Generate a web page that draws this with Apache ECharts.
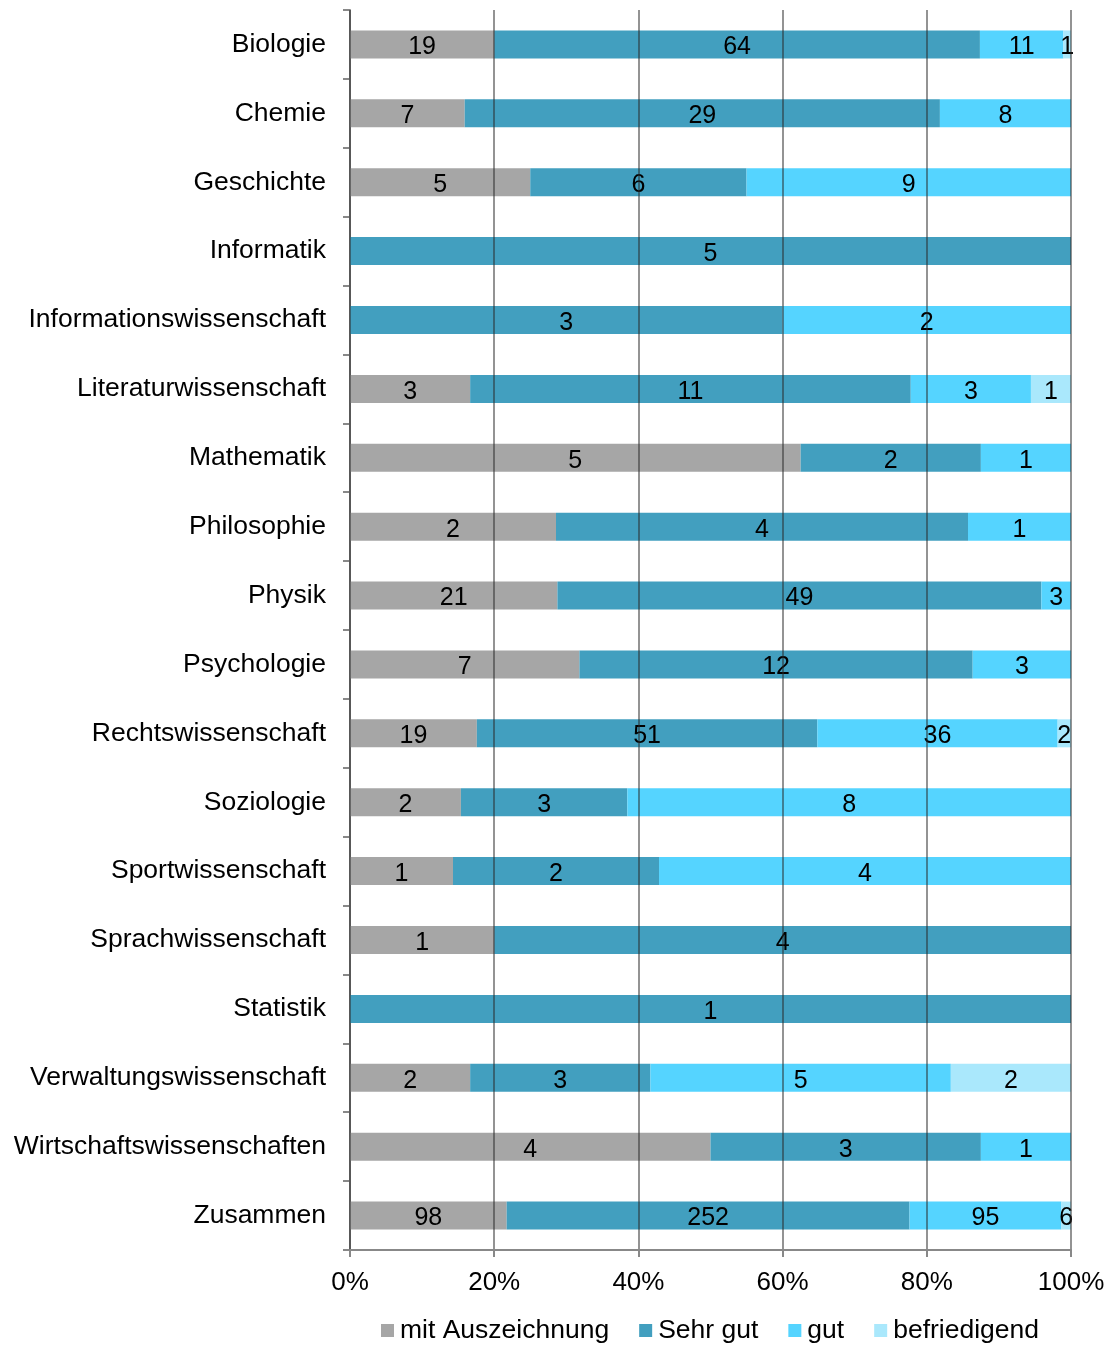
<!DOCTYPE html>
<html>
<head>
<meta charset="utf-8">
<script src="https://cdn.jsdelivr.net/npm/echarts@6/dist/echarts.min.js"></script>
<style>
  html, body { margin: 0; padding: 0; background: #fff; }
  #chart { width: 1109px; height: 1345px; }
</style>
</head>
<body>
<div id="chart"></div>
<script>
  // Fächer (top to bottom)
  var faecher = ['Biologie', 'Chemie', 'Geschichte', 'Informatik', 'Informationswissenschaft',
    'Literaturwissenschaft', 'Mathematik', 'Philosophie', 'Physik', 'Psychologie',
    'Rechtswissenschaft', 'Soziologie', 'Sportwissenschaft', 'Sprachwissenschaft', 'Statistik',
    'Verwaltungswissenschaft', 'Wirtschaftswissenschaften', 'Zusammen']

  var mitAuszeichnung = [19, 7, 5, 0, 0, 3, 5, 2, 21, 7, 19, 2, 1, 1, 0, 2, 4, 98]
  var sehrGut = [64, 29, 6, 5, 3, 11, 2, 4, 49, 12, 51, 3, 2, 4, 1, 3, 3, 252]
  var gut = [11, 8, 9, 0, 2, 3, 1, 1, 3, 3, 36, 8, 4, 0, 0, 5, 1, 95]
  var befriedigend = [1, 0, 0, 0, 0, 1, 0, 0, 0, 0, 2, 0, 0, 0, 0, 2, 0, 6]

  var noten = ['mit Auszeichnung', 'Sehr gut', 'gut', 'befriedigend']
  var farben = ['#A6A6A6', '#429FBF', '#55D4FF', '#AAE8FC']

  var reihen = [mitAuszeichnung, sehrGut, gut, befriedigend]
  var summen = faecher.map(function (f, i) {
    return reihen.reduce(function (s, r) { return s + r[i] }, 0)
  })

  var fontFam = '"Liberation Sans", Arial, sans-serif'
  var chart = echarts.init(document.getElementById('chart'))

  var series = reihen.map(function (r, k) {
    return {
      name: noten[k],
      type: 'bar',
      stack: 'total',
      barWidth: 28,
      itemStyle: { color: farben[k] },
      label: {
        show: true,
        position: 'inside',
        color: '#000',
        fontSize: 25,
        fontFamily: fontFam,
        offset: [0, 3],
        formatter: function (p) { return r[p.dataIndex] }
      },
      data: r.map(function (v, i) {
        return v > 0 ? v / summen[i] * 100 : null
      })
    }
  })

  chart.setOption({
    animation: false,
    textStyle: { fontFamily: fontFam },
    grid: { left: 350, right: 38, top: 10, bottom: 95 },
    legend: {
      data: noten,
      left: 376,
      top: 1312,
      icon: 'rect',
      itemWidth: 13,
      itemHeight: 13,
      itemGap: 30,
      textStyle: { fontSize: 26.5, color: '#000', fontFamily: fontFam, padding: [0, 0, 0, 1] }
    },
    xAxis: {
      type: 'value',
      min: 0,
      max: 100,
      interval: 20,
      z: 10,
      axisLine: { show: true, lineStyle: { color: '#888', width: 2 } },
      axisTick: { show: true, length: 7, lineStyle: { color: '#888', width: 2 } },
      axisLabel: { formatter: '{value}%', fontSize: 26, color: '#000', margin: 20 },
      splitLine: { show: true, lineStyle: { color: 'rgba(40,40,40,0.5)', width: 2 } }
    },
    yAxis: {
      type: 'category',
      data: faecher,
      inverse: true,
      axisLine: { show: true, lineStyle: { color: '#888', width: 2 } },
      axisTick: { show: true, length: 7, lineStyle: { color: '#888', width: 2 } },
      axisLabel: { fontSize: 26.5, color: '#000', margin: 24, padding: [3, 0, 0, 0] }
    },
    series: series
  })
</script>
</body>
</html>
